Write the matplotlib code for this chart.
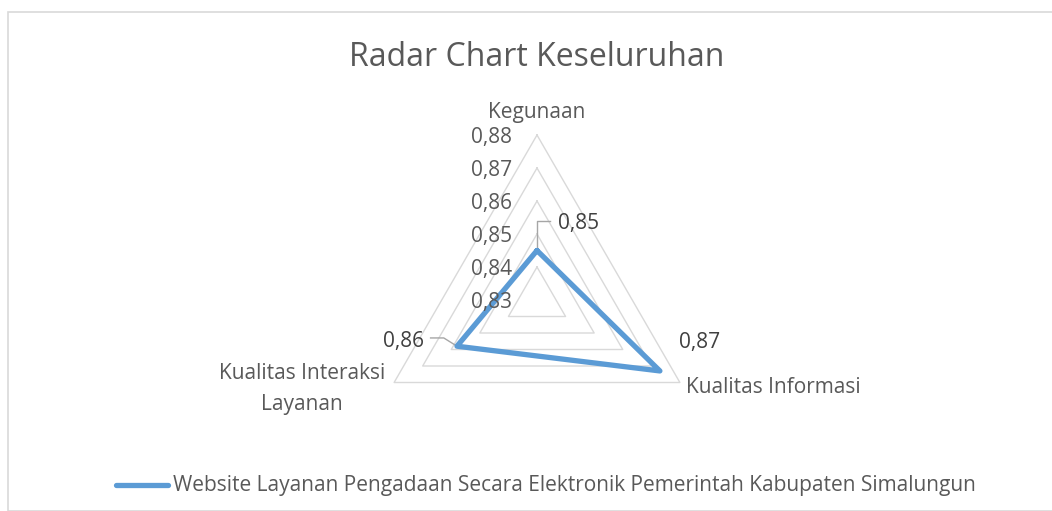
import numpy as np
import matplotlib
matplotlib.use("Agg")
import matplotlib.pyplot as plt
from matplotlib.patches import Rectangle

# data
kategori = ["Kegunaan", "Kualitas Informasi", "Kualitas Interaksi\nLayanan"]
nilai = [0.845, 0.873, 0.858]
label_nilai = ["0,85", "0,87", "0,86"]
ticks = [0.83, 0.84, 0.85, 0.86, 0.87, 0.88]
tick_labels = ["0,83", "0,84", "0,85", "0,86", "0,87", "0,88"]
seri = "Website Layanan Pengadaan Secara Elektronik Pemerintah Kabupaten Simalungun"

plt.rcParams['font.family'] = ['Open Sans', 'DejaVu Sans']
fs = 15
abu = '#595959'

W, H = 1052, 511
fig = plt.figure(figsize=(W/100, H/100), dpi=100)

# chart frame
fig.patches.append(Rectangle((8/W, 0), 1.5, 1-12/H, transform=fig.transFigure,
                             fill=False, edgecolor='#D9D9D9', linewidth=1.2))

# radar axes: centre at (537,300) px, outer ring radius 165 px
cx, cy, R = 537, 300, 165
half = 200
ax = fig.add_axes([(cx-half)/W, (H-cy-half)/H, 2*half/W, 2*half/H])
lim = half/R
ax.set_xlim(-lim, lim)
ax.set_ylim(-lim, lim)
ax.set_aspect('equal')
ax.axis('off')

vmin, vmax = ticks[0], ticks[-1]
sudut = np.pi/2 - np.arange(len(kategori))*2*np.pi/len(kategori)

def xy(v, a):
    r = (v - vmin)/(vmax - vmin)
    return r*np.cos(a), r*np.sin(a)

# grid rings
for t in ticks[1:]:
    px, py = xy(t, np.append(sudut, sudut[0]))
    ax.plot(px, py, color='#D9D9D9', lw=1.0, zorder=1)

# tick labels along the top spoke
for t, tl in zip(ticks, tick_labels):
    px, py = xy(t, sudut[0])
    ax.text(px - 0.15, py - 0.015, tl, ha='right', va='center', fontsize=fs, color=abu, zorder=4)

# series
px, py = xy(np.array(nilai + nilai[:1]), np.append(sudut, sudut[0]))
ax.plot(px, py, color='#5B9BD5', lw=3.8, solid_joinstyle='round', solid_capstyle='round', zorder=3)

# category labels
ax.text(0, 1.135, kategori[0], ha='center', va='center', fontsize=fs, color=abu)
x1, y1 = xy(vmax, sudut[1])
ax.text(x1 + 0.04, y1 - 0.03, kategori[1], ha='left', va='center', fontsize=fs, color=abu)
x2, y2 = xy(vmax, sudut[2])
ax.text(x2 - 0.56, y2 - 0.04, kategori[2], ha='center', va='center', fontsize=fs,
        color=abu, linespacing=1.6)

# data labels with leader lines
kx, ky = xy(nilai[0], sudut[0])
ax.plot([kx, kx, kx + 0.08], [ky, ky + 0.18, ky + 0.18], color='#A6A6A6', lw=1.0, zorder=2)
ax.text(kx + 0.13, ky + 0.165, label_nilai[0], ha='left', va='center', fontsize=fs, color='#404040')

ix, iy = xy(nilai[1], sudut[1])
ax.text(ix + 0.115, iy + 0.17, label_nilai[1], ha='left', va='center', fontsize=fs, color='#404040')

lx, ly = xy(nilai[2], sudut[2])
ax.plot([lx, lx - 0.08, lx - 0.16], [ly, ly + 0.05, ly + 0.05], color='#A6A6A6', lw=1.0, zorder=2)
ax.text(lx - 0.2, ly + 0.03, label_nilai[2], ha='right', va='center', fontsize=fs, color='#404040')

# title
fig.text(537/W, 1 - 57/H, "Radar Chart Keseluruhan", ha='center', va='center',
         fontsize=23, color=abu)

# legend
fig.lines.append(plt.Line2D([116/W, 168/W], [1 - 485/H]*2, transform=fig.transFigure,
                            color='#5B9BD5', lw=3.8, solid_capstyle='round'))
fig.text(173/W, 1 - 486/H, seri, ha='left', va='center', fontsize=fs, color=abu)

fig.savefig("out.png", dpi=100)
